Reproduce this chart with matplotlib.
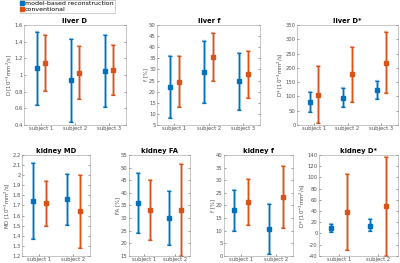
import numpy as np
import matplotlib
matplotlib.use('Agg')
import matplotlib.pyplot as plt
from matplotlib.lines import Line2D

# --- data (mean, lower, upper) per subject ---
subjects_liver = ['subject 1', 'subject 2', 'subject 3']
subjects_kidney = ['subject 1', 'subject 2']

liverD_model = [1.08, 0.935, 1.05]
liverD_model_lo = [0.645, 0.435, 0.61]
liverD_model_hi = [1.515, 1.43, 1.485]
liverD_conv = [1.145, 1.025, 1.065]
liverD_conv_lo = [0.81, 0.71, 0.765]
liverD_conv_hi = [1.48, 1.345, 1.365]

liverf_model = [22.0, 28.8, 24.7]
liverf_model_lo = [8.0, 14.8, 11.8]
liverf_model_hi = [36.2, 42.8, 37.6]
liverf_conv = [24.5, 35.7, 27.8]
liverf_conv_lo = [13.0, 25.0, 17.0]
liverf_conv_hi = [36.0, 46.3, 38.5]

liverDs_model = [80.0, 96.0, 123.0]
liverDs_model_lo = [45.0, 63.0, 92.0]
liverDs_model_hi = [115.0, 128.0, 153.0]
liverDs_conv = [106.0, 177.0, 218.0]
liverDs_conv_lo = [5.0, 82.0, 111.0]
liverDs_conv_hi = [207.0, 272.0, 325.0]

kidMD_model = [1.74, 1.76]
kidMD_model_lo = [1.37, 1.51]
kidMD_model_hi = [2.12, 2.015]
kidMD_conv = [1.72, 1.64]
kidMD_conv_lo = [1.495, 1.28]
kidMD_conv_hi = [1.945, 2.0]

kidFA_model = [36.0, 30.0]
kidFA_model_lo = [24.2, 19.2]
kidFA_model_hi = [47.8, 40.8]
kidFA_conv = [33.2, 33.3]
kidFA_conv_lo = [21.2, 15.0]
kidFA_conv_hi = [45.2, 51.5]

kidf_model = [18.0, 10.7]
kidf_model_lo = [9.8, 0.8]
kidf_model_hi = [26.2, 20.6]
kidf_conv = [21.3, 23.3]
kidf_conv_lo = [12.4, 11.0]
kidf_conv_hi = [30.3, 35.6]

kidDs_model = [10.0, 14.0]
kidDs_model_lo = [3.0, 4.0]
kidDs_model_hi = [17.0, 25.0]
kidDs_conv = [38.0, 49.0]
kidDs_conv_lo = [-30.0, -40.0]
kidDs_conv_hi = [106.0, 137.0]

blue = '#0072BD'
orange = '#D95319'
fs = 4.2

plt.rcParams['font.family'] = 'DejaVu Sans'

fig = plt.figure(figsize=(4.0, 2.63), dpi=100)

unit = '[10$^{-3}$mm$^2$/s]'
panels = [
    # title, ylabel, labels, model, conv, ylim, yticks, rect
    ('liver D', 'D ' + unit, subjects_liver,
     (liverD_model, liverD_model_lo, liverD_model_hi),
     (liverD_conv, liverD_conv_lo, liverD_conv_hi),
     (0.4, 1.6), np.arange(0.4, 1.61, 0.2), [0.060, 0.525, 0.255, 0.380]),
    ('liver f', 'f [%]', subjects_liver,
     (liverf_model, liverf_model_lo, liverf_model_hi),
     (liverf_conv, liverf_conv_lo, liverf_conv_hi),
     (5, 50), np.arange(5, 51, 5), [0.393, 0.525, 0.258, 0.380]),
    ('liver D*', 'D* ' + unit, subjects_liver,
     (liverDs_model, liverDs_model_lo, liverDs_model_hi),
     (liverDs_conv, liverDs_conv_lo, liverDs_conv_hi),
     (0, 350), np.arange(0, 351, 50), [0.743, 0.525, 0.252, 0.380]),
    ('kidney MD', 'MD ' + unit, subjects_kidney,
     (kidMD_model, kidMD_model_lo, kidMD_model_hi),
     (kidMD_conv, kidMD_conv_lo, kidMD_conv_hi),
     (1.2, 2.2), np.arange(1.2, 2.21, 0.1), [0.056, 0.027, 0.170, 0.384]),
    ('kidney FA', 'FA [%]', subjects_kidney,
     (kidFA_model, kidFA_model_lo, kidFA_model_hi),
     (kidFA_conv, kidFA_conv_lo, kidFA_conv_hi),
     (15, 55), np.arange(15, 56, 5), [0.3225, 0.027, 0.1525, 0.384]),
    ('kidney f', 'f [%]', subjects_kidney,
     (kidf_model, kidf_model_lo, kidf_model_hi),
     (kidf_conv, kidf_conv_lo, kidf_conv_hi),
     (0, 40), np.arange(0, 41, 5), [0.560, 0.027, 0.1725, 0.384]),
    ('kidney D*', 'D* ' + unit, subjects_kidney,
     (kidDs_model, kidDs_model_lo, kidDs_model_hi),
     (kidDs_conv, kidDs_conv_lo, kidDs_conv_hi),
     (-40, 140), np.arange(-40, 141, 20), [0.7975, 0.027, 0.1975, 0.384]),
]


def draw_err(ax, x, vals, color):
    m, lo, hi = [np.asarray(v, dtype=float) for v in vals]
    yerr = [m - lo, hi - m]
    ax.errorbar(x, m, yerr=yerr, fmt='none', ecolor=color, elinewidth=2.0,
                alpha=0.45, capsize=1.6, capthick=1.6)
    ax.errorbar(x, m, yerr=yerr, fmt='s', color=color, ms=2.6,
                elinewidth=0.8, capsize=1.2, capthick=0.8)


for title, ylab, labels, model, conv, ylim, yticks, rect in panels:
    ax = fig.add_axes(rect)
    x = np.arange(1, len(labels) + 1)
    off = 0.13 if len(labels) == 3 else 0.2
    draw_err(ax, x - off, model, blue)
    draw_err(ax, x + off, conv, orange)
    ax.set_xlim(0.5, len(labels) + 0.5)
    ax.set_ylim(*ylim)
    ax.set_yticks(yticks)
    ax.set_yticklabels(['%g' % round(t, 2) for t in yticks])
    ax.set_xticks(x)
    ax.set_xticklabels(labels)
    ax.set_title(title, fontsize=fs + 0.7, fontweight='bold', pad=1.5)
    ax.set_ylabel(ylab, fontsize=fs - 0.3, labelpad=0.3, color='#505050')
    ax.tick_params(direction='in', length=1.5, width=0.4, labelsize=fs - 0.4,
                   colors='#505050', pad=1.0, right=True)
    for s in ax.spines.values():
        s.set_linewidth(0.4)
        s.set_color('#999999')

# legend
h1 = Line2D([], [], color=blue, marker='s', ms=2.2, lw=0.8)
h2 = Line2D([], [], color=orange, marker='s', ms=2.2, lw=0.8)
leg = fig.legend([h1, h2], ['model-based reconstruction', 'conventional'],
                 loc='upper left', bbox_to_anchor=(0.05, 1.0), fontsize=fs + 0.3,
                 handlelength=0.4, handletextpad=0.25, borderpad=0.15,
                 labelspacing=0.05, frameon=True, fancybox=False,
                 borderaxespad=0)
leg.get_frame().set_linewidth(0.4)
leg.get_frame().set_edgecolor('#999999')

fig.savefig('out.png', dpi=100)
